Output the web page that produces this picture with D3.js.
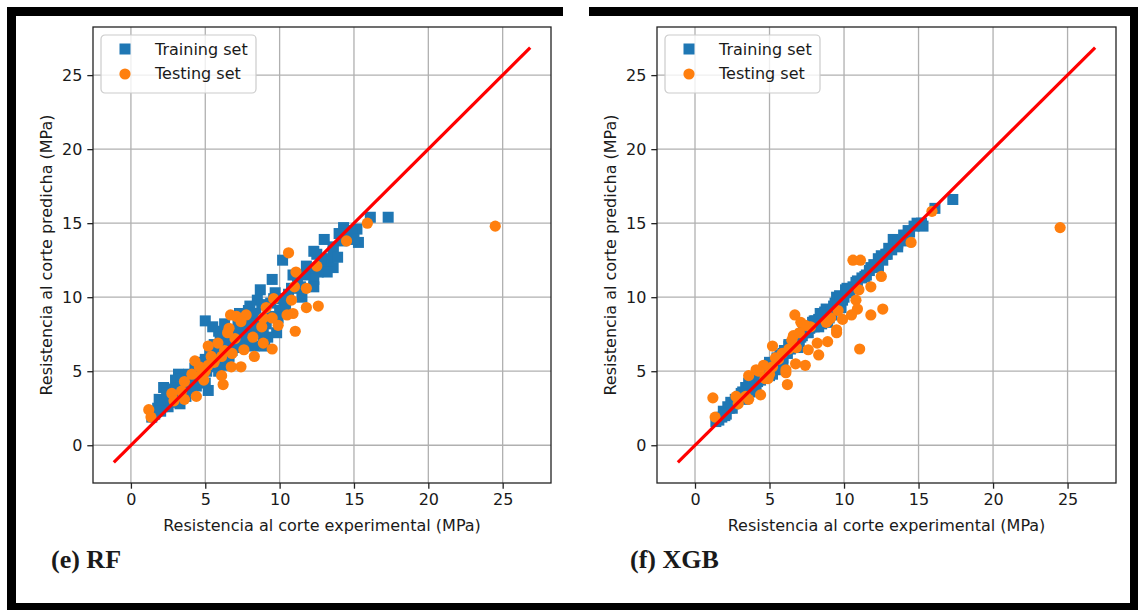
<!DOCTYPE html>
<html>
<head>
<meta charset="utf-8">
<script src="https://cdn.jsdelivr.net/npm/d3@7"></script>
<style>
  html, body { margin: 0; padding: 0; background: #fff; }
  svg { display: block; }
  text { font-family: "DejaVu Sans", sans-serif; fill: #1a1a1a; }
</style>
</head>
<body>
<svg id="chart" width="1138" height="610"></svg>
<script>
// Shear strength: experimental vs predicted (MPa)
const tickValues = [0, 5, 10, 15, 20, 25];
const refLine = [-1.15, 26.85];
const seriesNames = ["Training set", "Testing set"];
const panelTitles = ["(e) RF", "(f) XGB"];

// Training set: experimental values and model predictions
const trainExp = [17.3, 16.1, 15.3, 14.7, 14.3, 14.0, 15.2, 14.2, 13.6, 13.0, 12.3, 13.3, 13.6, 12.9, 13.2, 12.6, 12.0, 12.3, 11.7, 10.2,
  9.5, 12.3, 11.4, 8.7, 8.5, 7.9, 10.0, 10.3, 9.4, 9.8, 8.9, 8.9, 7.3, 5.0, 5.5, 5.9, 6.3, 8.0, 8.8, 8.3,
  9.1, 9.2, 9.0, 8.3, 6.8, 3.2, 3.0, 2.2, 1.9, 2.3, 2.1, 1.6, 2.6, 3.8, 5.0, 5.2, 5.9, 5.9, 10.6, 11.2,
  10.9, 11.5, 12.8, 13.6, 14.4, 13.9, 3.5, 4.2, 4.5, 5.0, 5.3, 5.6, 6.0, 6.5, 6.9, 7.2, 7.5, 7.8, 8.1, 3.0,
  2.5, 3.3, 4.0, 4.4, 6.2, 6.6, 7.0, 7.6, 8.0, 8.6, 9.3, 9.9, 10.4, 3.7, 4.8, 5.4, 6.4, 7.1, 7.7, 1.8,
  2.8, 4.6, 6.1, 10.8, 11.8, 12.5, 9.6, 14.9, 15.0, 2.4, 2.7, 3.1, 3.4, 3.9, 4.3, 4.7, 5.1, 5.7, 6.0,
  6.3, 6.7, 7.3, 7.9, 8.4, 9.7, 10.1, 1.4, 2.0, 4.1, 5.5, 6.9, 8.5, 3.6];
const trainPredRF = [15.4, 15.4, 13.7, 14.5, 14.7, 14.3, 14.6, 13.8, 13.4, 13.9, 13.1, 12.6, 12.0, 12.2, 11.7, 11.7, 11.7, 11.2, 11.5, 12.5,
  11.2, 10.7, 10.7, 10.5, 9.8, 9.1, 9.1, 9.8, 9.6, 7.6, 8.0, 6.9, 8.9, 8.4, 8.0, 7.7, 8.2, 9.4, 9.5, 8.5,
  8.2, 7.3, 6.7, 6.7, 6.4, 4.8, 4.4, 3.9, 3.1, 3.0, 2.6, 2.1, 3.1, 4.2, 4.2, 3.7, 5.0, 5.7, 10.2, 11.2,
  11.5, 10.0, 12.6, 13.1, 14.0, 12.7, 4.0, 4.6, 5.0, 5.8, 6.2, 6.8, 7.3, 7.0, 7.5, 8.2, 7.6, 8.4, 7.8, 3.6,
  2.6, 2.8, 3.8, 4.0, 5.4, 6.0, 6.6, 6.8, 7.2, 7.6, 8.7, 8.6, 9.4, 3.3, 4.6, 5.3, 6.6, 7.1, 8.0, 2.5,
  3.8, 5.6, 6.3, 10.6, 12.1, 12.9, 9.9, 14.3, 13.9, 3.5, 2.9, 3.9, 4.5, 4.8, 5.2, 4.3, 5.0, 6.0, 6.6,
  5.9, 7.4, 7.0, 7.4, 8.9, 10.3, 9.9, 1.9, 2.3, 4.4, 5.8, 6.8, 8.2, 3.7];
const trainPredXGB = [16.6, 16.0, 14.8, 14.8, 14.5, 14.2, 15.0, 14.0, 13.6, 13.3, 12.6, 13.9, 13.4, 12.9, 13.2, 12.5, 12.2, 12.1, 11.8, 10.6,
  10.0, 12.0, 11.4, 9.0, 8.8, 8.3, 10.0, 10.4, 9.6, 9.3, 8.7, 8.3, 7.6, 5.6, 5.9, 6.2, 6.7, 8.4, 9.2, 8.5,
  9.0, 8.8, 8.6, 8.0, 6.8, 3.6, 3.3, 2.6, 2.3, 2.5, 2.1, 1.7, 2.8, 4.0, 4.7, 4.8, 5.7, 5.9, 10.7, 11.3,
  11.1, 11.5, 12.9, 13.7, 14.4, 13.8, 3.8, 4.3, 4.7, 5.2, 5.5, 5.8, 6.3, 6.8, 7.2, 7.4, 7.8, 8.0, 8.4, 3.2,
  2.5, 3.1, 4.1, 4.4, 6.2, 6.6, 7.0, 7.6, 8.0, 8.6, 9.4, 9.8, 10.3, 3.6, 4.9, 5.6, 6.5, 7.3, 7.9, 1.9,
  3.0, 4.9, 6.3, 11.0, 12.0, 12.8, 9.8, 15.0, 14.9, 2.9, 3.1, 3.5, 3.9, 4.3, 4.7, 5.1, 5.5, 6.1, 6.4,
  6.8, 7.1, 7.7, 8.3, 8.9, 10.1, 10.5, 1.6, 2.0, 3.7, 5.1, 6.6, 8.2, 4.2];

// Testing set: experimental values and model predictions
const testExp = [24.5, 15.9, 14.5, 12.5, 10.6, 11.1, 11.8, 11.0, 12.6, 11.8, 10.8, 10.9, 10.5, 11.05, 9.6, 9.1, 9.9, 9.5, 8.9, 9.5,
  8.3, 8.2, 7.75, 6.7, 7.1, 7.4, 6.6, 8.8, 8.9, 6.5, 5.85, 5.2, 5.4, 6.1, 6.75, 7.4, 7.6, 6.1, 6.2, 5.2,
  4.6, 4.3, 4.7, 4.1, 3.6, 4.4, 3.4, 3.6, 2.75, 1.2, 1.35, 2.9, 5.6, 6.3, 5.0, 7.0, 6.8, 4.9];
const testPredRF = [14.8, 15.0, 13.8, 12.1, 13.0, 11.7, 10.6, 10.7, 9.4, 9.3, 9.8, 8.9, 8.8, 7.7, 9.9, 9.3, 8.1, 8.6, 8.6, 6.5,
  6.0, 7.3, 8.8, 8.8, 8.7, 8.35, 7.9, 8.0, 6.9, 7.6, 6.9, 6.7, 6.0, 6.0, 5.3, 5.3, 6.45, 4.7, 4.1, 5.4,
  5.3, 5.7, 4.7, 4.8, 4.3, 3.3, 3.65, 3.1, 3.5, 2.4, 1.9, 3.0, 5.6, 6.4, 5.0, 7.2, 6.2, 4.4];
const testPredXGB = [14.7, 15.8, 13.7, 11.4, 12.5, 12.5, 10.7, 10.5, 9.2, 8.8, 9.8, 9.2, 8.8, 6.5, 9.1, 8.6, 8.5, 7.8, 8.4, 7.6,
  6.1, 6.9, 8.0, 8.8, 8.3, 8.1, 7.4, 8.3, 7.0, 7.1, 6.2, 6.7, 5.9, 5.1, 5.5, 5.4, 6.45, 4.9, 4.1, 5.3,
  5.4, 5.0, 4.5, 5.1, 4.7, 3.4, 3.3, 3.1, 3.3, 3.2, 1.9, 2.8, 5.8, 6.5, 4.8, 7.6, 6.6, 4.5];

const BLUE = "#1f77b4", ORANGE = "#ff7f0e";
const svg = d3.select("#chart");

// Outer frame
const frame = svg.append("g").attr("fill", "#000");
frame.append("rect").attr("x", 7).attr("y", 7).attr("width", 556).attr("height", 9);
frame.append("rect").attr("x", 589).attr("y", 7).attr("width", 549).attr("height", 9);
frame.append("rect").attr("x", 7).attr("y", 7).attr("width", 9).attr("height", 603);
frame.append("rect").attr("x", 1130).attr("y", 7).attr("width", 8).attr("height", 603);
frame.append("rect").attr("x", 7).attr("y", 603).attr("width", 1131).attr("height", 7);

function drawPanel(axLeft, axRight, trainPred, testPred, title, titleX) {
  const axTop = 27, axBottom = 483;
  const x = d3.scaleLinear().domain([-2.55, 28.25]).range([axLeft, axRight]);
  const y = d3.scaleLinear().domain([-2.55, 28.25]).range([axBottom, axTop]);
  const g = svg.append("g");

  // grid
  const grid = g.append("g").attr("stroke", "#b0b0b0").attr("stroke-width", 1.3);
  grid.selectAll(".gx").data(tickValues).join("line")
    .attr("x1", d => x(d)).attr("x2", d => x(d)).attr("y1", axTop).attr("y2", axBottom);
  grid.selectAll(".gy").data(tickValues).join("line")
    .attr("y1", d => y(d)).attr("y2", d => y(d)).attr("x1", axLeft).attr("x2", axRight);

  // training squares
  const sq = 11;
  g.append("g").selectAll("rect").data(trainExp.map((e, i) => [e, trainPred[i]])).join("rect")
    .attr("x", d => x(d[0]) - sq / 2).attr("y", d => y(d[1]) - sq / 2)
    .attr("width", sq).attr("height", sq).attr("fill", BLUE);

  // testing circles
  g.append("g").selectAll("circle").data(testExp.map((e, i) => [e, testPred[i]])).join("circle")
    .attr("cx", d => x(d[0])).attr("cy", d => y(d[1])).attr("r", 5.6).attr("fill", ORANGE);

  // 1:1 reference line
  g.append("line")
    .attr("x1", x(refLine[0])).attr("y1", y(refLine[0]))
    .attr("x2", x(refLine[1])).attr("y2", y(refLine[1]))
    .attr("stroke", "red").attr("stroke-width", 3.2);

  // axes
  const xAxis = d3.axisBottom(x).tickValues(tickValues).tickSize(5.7).tickPadding(5);
  const yAxis = d3.axisLeft(y).tickValues(tickValues).tickSize(5.7).tickPadding(5);
  const gx = g.append("g").attr("transform", `translate(0,${axBottom})`).call(xAxis);
  const gy = g.append("g").attr("transform", `translate(${axLeft},0)`).call(yAxis);
  [gx, gy].forEach(a => {
    a.select(".domain").remove();
    a.selectAll(".tick line").attr("stroke", "#222").attr("stroke-width", 1.3);
    a.selectAll(".tick text").attr("font-size", 16).attr("fill", "#1a1a1a")
      .style("font-family", "'DejaVu Sans', sans-serif");
  });

  // spines
  g.append("rect").attr("x", axLeft).attr("y", axTop)
    .attr("width", axRight - axLeft).attr("height", axBottom - axTop)
    .attr("fill", "none").attr("stroke", "#222").attr("stroke-width", 1.3);

  // axis labels
  g.append("text").attr("x", (axLeft + axRight) / 2).attr("y", 525)
    .attr("text-anchor", "middle").attr("dominant-baseline", "central").attr("font-size", 16)
    .text("Resistencia al corte experimental (MPa)");
  g.append("text")
    .attr("transform", `translate(${axLeft - 47},${(axTop + axBottom) / 2}) rotate(-90)`)
    .attr("text-anchor", "middle").attr("dominant-baseline", "central").attr("font-size", 16)
    .text("Resistencia al corte predicha (MPa)");

  // legend
  const lg = g.append("g").attr("transform", `translate(${axLeft + 8},${axTop + 8})`);
  lg.append("rect").attr("width", 155).attr("height", 58).attr("rx", 4)
    .attr("fill", "#fff").attr("fill-opacity", 0.8).attr("stroke", "#cccccc").attr("stroke-width", 1.2);
  lg.append("rect").attr("x", 24 - sq / 2).attr("y", 14 - sq / 2).attr("width", sq).attr("height", sq).attr("fill", BLUE);
  lg.append("circle").attr("cx", 24).attr("cy", 39).attr("r", 5.6).attr("fill", ORANGE);
  lg.selectAll("text.lab").data(seriesNames).join("text")
    .attr("x", 54).attr("y", (d, i) => 14 + i * 24.5)
    .attr("dominant-baseline", "central").attr("font-size", 16).text(d => d);

  // panel caption
  svg.append("text").attr("x", titleX).attr("y", 568)
    .style("font-family", "'Liberation Serif', 'Times New Roman', serif")
    .attr("font-weight", "bold").attr("font-size", 26).attr("fill", "#000")
    .text(title);
}

drawPanel(93, 551, trainPredRF, testPredRF, panelTitles[0], 51);
drawPanel(657, 1116, trainPredXGB, testPredXGB, panelTitles[1], 630);
</script>
</body>
</html>
